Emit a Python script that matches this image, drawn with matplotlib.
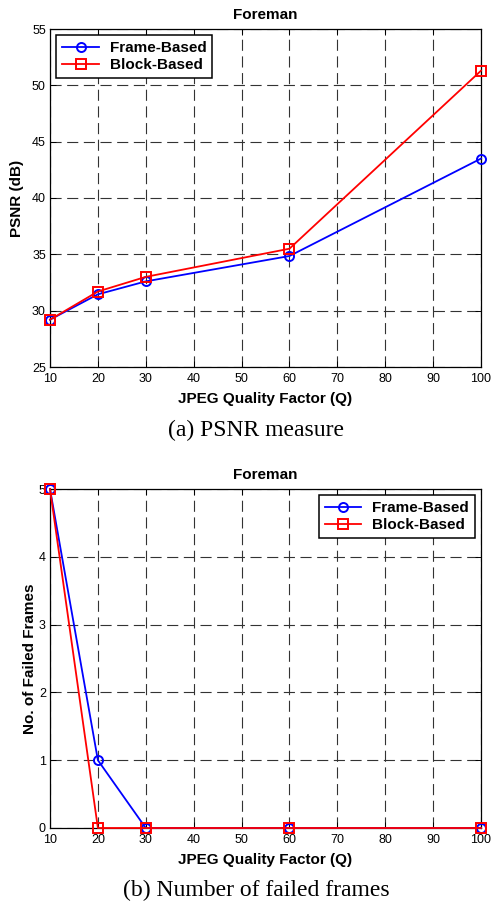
import matplotlib
matplotlib.use("Agg")
import matplotlib.pyplot as plt

# data
quality = [10, 20, 30, 60, 100]
psnr_frame = [29.2, 31.45, 32.6, 34.85, 43.5]
psnr_block = [29.2, 31.7, 33.0, 35.5, 51.3]
failed_frame = [5, 1, 0, 0, 0]
failed_block = [5, 0, 0, 0, 0]
x_ticks = list(range(10, 101, 10))

SANS = "Liberation Sans"
SERIF = "Liberation Serif"
plt.rcParams["font.family"] = [SANS, "DejaVu Sans"]

fig = plt.figure(figsize=(4.92, 9.02), dpi=100)
ax1 = fig.add_axes([50 / 492, 1 - 367 / 902, 431 / 492, 338 / 902])
ax2 = fig.add_axes([50 / 492, 1 - 828 / 902, 431 / 492, 339 / 902])


def style_axes(ax, ylim, yticks, ylabel, ylabel_x, legend_loc):
    ax.set_xlim(10, 100)
    ax.set_ylim(*ylim)
    ax.set_xticks(x_ticks)
    ax.set_yticks(yticks)
    ax.tick_params(direction="in", length=4, width=0.7, labelsize=9,
                   top=True, right=True)
    ax.tick_params(axis="x", pad=4.5)
    ax.tick_params(axis="y", pad=3)
    ax.grid(True, color="0.2", linestyle=(0, (10, 5)), linewidth=0.8)
    for sp in ax.spines.values():
        sp.set_linewidth(0.9)
    ax.set_title("Foreman", fontsize=11, fontweight="bold", pad=7)
    ax.set_xlabel("JPEG Quality Factor (Q)", fontsize=11, fontweight="bold")
    ax.xaxis.set_label_coords(0.5, -0.073)
    ax.set_ylabel(ylabel, fontsize=11, fontweight="bold")
    ax.yaxis.set_label_coords(ylabel_x, 0.5)
    leg = ax.legend(loc=legend_loc, prop={"weight": "bold", "size": 11},
                    fancybox=False, framealpha=1, edgecolor="black",
                    borderpad=0.4, labelspacing=0.2, handlelength=2.4,
                    handletextpad=0.7, borderaxespad=0.4)
    leg.get_frame().set_linewidth(1.1)


line_kw = dict(linewidth=1.3, markersize=6.5, markerfacecolor="none",
               markeredgewidth=1.4, clip_on=False, zorder=3)

ax1.plot(quality, psnr_frame, color="blue", marker="o", label="Frame-Based", **line_kw)
ax1.plot(quality, psnr_block, color="red", marker="s", label="Block-Based", **line_kw)
style_axes(ax1, (25, 55), range(25, 56, 5), "PSNR (dB)", -0.060, "upper left")

ax2.plot(quality, failed_frame, color="blue", marker="o", label="Frame-Based", **line_kw)
ax2.plot(quality, failed_block, color="red", marker="s", label="Block-Based", **line_kw)
style_axes(ax2, (0, 5), range(0, 6), "No. of Failed Frames", -0.030, "upper right")

fig.text(256 / 492, 1 - 430 / 902, "(a) PSNR measure", family=SERIF,
         fontsize=17, ha="center", va="center")
fig.text(256 / 492, 1 - 890.5 / 902, "(b) Number of failed frames", family=SERIF,
         fontsize=17, ha="center", va="center")

fig.savefig("out.png", dpi=100)
